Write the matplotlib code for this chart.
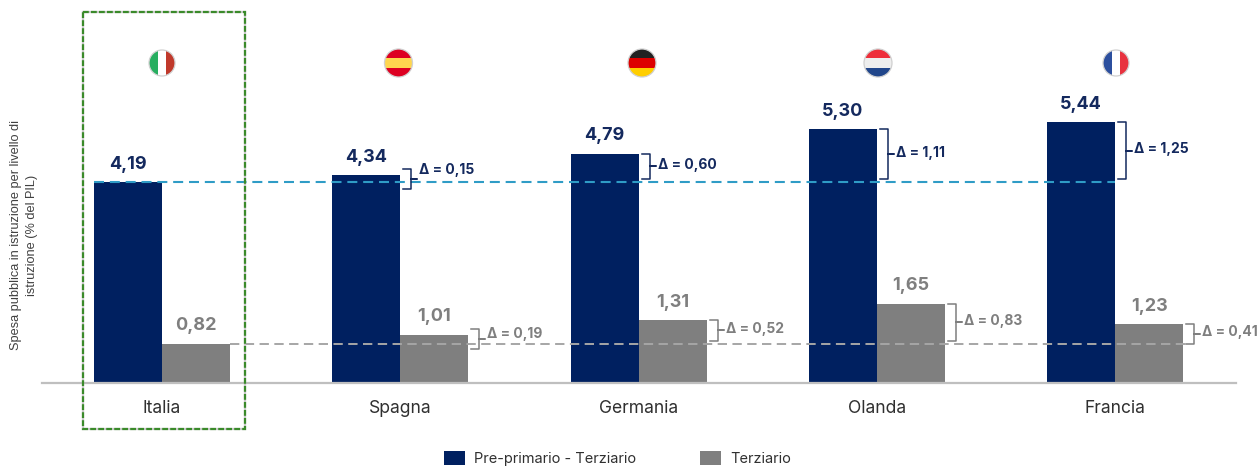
import matplotlib
matplotlib.use('Agg')
import matplotlib.pyplot as plt
from matplotlib.patches import Circle, Rectangle, Patch
import numpy as np

paesi = ['Italia', 'Spagna', 'Germania', 'Olanda', 'Francia']
totale = [4.19, 4.34, 4.79, 5.30, 5.44]
terziario = [0.82, 1.01, 1.31, 1.65, 1.23]
delta_totale = [None, 0.15, 0.60, 1.11, 1.25]
delta_terziario = [None, 0.19, 0.52, 0.83, 0.41]

NAVY = '#002060'
GRIGIO = '#7f7f7f'
FONT = ['Inter', 'DejaVu Sans']
W, H = 1260, 466
PX_X = 238.3          # pixel per gruppo
PX_Y = 47.9           # pixel per unita
BAR = 68 / PX_X


def virgola(v):
    return f'{v:.2f}'.replace('.', ',')


def graffa(ax, x, valore, rif, colore):
    """Parentesi graffa verso destra tra il valore e il riferimento"""
    dx = 3 / PX_X
    largh = 8 / PX_X
    punta = 6 / PX_X
    alto = valore
    basso = rif + 3 / PX_Y
    if alto - basso < 20 / PX_Y:
        centro = (valore + rif) / 2
        alto = centro + 10 / PX_Y
        basso = centro - 10 / PX_Y
    ym = (basso + alto) / 2
    xs = [x + dx, x + dx + largh, x + dx + largh, x + dx + largh + punta,
          x + dx + largh, x + dx + largh, x + dx]
    ys = [alto, alto, ym, ym, ym, basso, basso]
    ax.plot(xs, ys, color=colore, lw=1.1, solid_joinstyle='round', zorder=4)
    return x + dx + largh + punta, ym


fig = plt.figure(figsize=(W / 100, H / 100), dpi=100, facecolor='white')
ax = fig.add_axes([42 / W, (H - 383) / H, (1236 - 42) / W, 383 / H])
ax.set_xlim((42 - 162) / PX_X, (1236 - 162) / PX_X)
ax.set_ylim(0, 383 / PX_Y)
ax.patch.set_alpha(0)
for s in ['top', 'left', 'right']:
    ax.spines[s].set_visible(False)
ax.spines['bottom'].set_color('#bfbfbf')
ax.spines['bottom'].set_linewidth(1.6)
ax.set_yticks([])

x = np.arange(len(paesi))
ax.bar(x - BAR / 2, totale, BAR, color=NAVY, zorder=2)
ax.bar(x + BAR / 2, terziario, BAR, color=GRIGIO, zorder=2)

ax.set_xticks(x)
ax.set_xticklabels(paesi, fontsize=12.6, color='#303030', family=FONT)
ax.tick_params(axis='x', length=0, pad=12)

# linee di riferimento sul valore dell'Italia
ax.plot([x[0] - BAR, x[-1]], [totale[0]] * 2, color='#2f9cc6', lw=1.5,
        dashes=(4.8, 2.8), zorder=3)
ax.plot([x[0] + BAR, x[-1] + BAR * 1.1], [terziario[0]] * 2, color='#a6a6a6', lw=1.4,
        dashes=(4.8, 2.8), zorder=3)

for i in x:
    ax.text(i - BAR / 2, totale[i] + 0.2, virgola(totale[i]), ha='center', va='bottom',
            fontsize=13, fontweight='bold', color='#14295e', family=FONT)
    ax.text(i + BAR / 2, terziario[i] + 0.2, virgola(terziario[i]), ha='center', va='bottom',
            fontsize=13, fontweight='bold', color=GRIGIO, family=FONT)

    if delta_totale[i] is not None:
        tx, ty = graffa(ax, i, totale[i], totale[0], '#14295e')
        ax.text(tx + 2 / PX_X, max(ty + 0.03, totale[0] + 0.25), f'Δ = {virgola(delta_totale[i])}',
                ha='left', va='center', fontsize=10, fontweight='bold', color='#14295e',
                family=FONT, zorder=5)
    if delta_terziario[i] is not None:
        tx, ty = graffa(ax, i + BAR, terziario[i], terziario[0], GRIGIO)
        ax.text(tx + 2 / PX_X, max(ty + 0.03, terziario[0] + 0.2), f'Δ = {virgola(delta_terziario[i])}',
                ha='left', va='center', fontsize=10, fontweight='bold', color=GRIGIO,
                family=FONT, zorder=5, clip_on=False)

# livello in pixel per bandiere, riquadro ed etichetta asse
top = fig.add_axes([0, 0, 1, 1])
top.set_xlim(0, W)
top.set_ylim(H, 0)
top.axis('off')
top.patch.set_alpha(0)

top.add_patch(Rectangle((83, 12), 162, 417, fill=False, ec='#c8c8c8', lw=1.6))
top.add_patch(Rectangle((83, 12), 162, 417, fill=False, ec='#3a8a2a', lw=1.6,
                        ls=(0, (2.6, 1))))


def bandiera(cx, colori, verticale, r=14):
    cy = 63
    bordo = Circle((cx, cy), r, fc='none', ec='#d0d0d0', lw=0.9, zorder=7)
    top.add_patch(bordo)
    clip = Circle((cx, cy), r, transform=top.transData)
    tot = sum(c[1] for c in colori)
    pos = -r
    for colore, quota in colori:
        passo = 2 * r * quota / tot
        if verticale:
            rett = Rectangle((cx + pos, cy - r), passo, 2 * r, fc=colore, ec='none', zorder=6)
        else:
            rett = Rectangle((cx - r, cy + pos), 2 * r, passo, fc=colore, ec='none', zorder=6)
        top.add_patch(rett)
        rett.set_clip_path(clip)
        pos += passo


bandiera(162, [('#27ae60', 1), ('#ffffff', 1), ('#c0392b', 1)], True, r=13)
bandiera(398.5, [('#dd0022', 1), ('#ffd64f', 1.1), ('#dd0022', 1)], False)
bandiera(642, [('#222222', 1), ('#dd0000', 1), ('#ffce00', 1)], False)
bandiera(878, [('#ee2e3a', 1), ('#eeeeee', 1), ('#21468b', 1)], False)
bandiera(1116, [('#2c4f9e', 1), ('#ffffff', 1), ('#e8323f', 1)], True, r=13)

top.text(24, 235, 'Spesa pubblica in istruzione per livello di\nistruzione (% del PIL)',
         rotation=90, ha='center', va='center', fontsize=9.2, color='#404040',
         family='Liberation Sans', linespacing=1.55)

fig.legend(handles=[Patch(fc=NAVY, label='Pre-primario - Terziario'),
                    Patch(fc=GRIGIO, label='Terziario')],
           loc='lower left', bbox_to_anchor=(444 / W, 0), ncol=2, frameon=False,
           prop={'family': FONT, 'size': 10.5}, labelcolor='#303030', borderpad=0,
           borderaxespad=0, handlelength=1.44, handleheight=1.15, handletextpad=0.6,
           columnspacing=4.4)

fig.savefig('out.png', dpi=100, facecolor='white')
plt.close(fig)
